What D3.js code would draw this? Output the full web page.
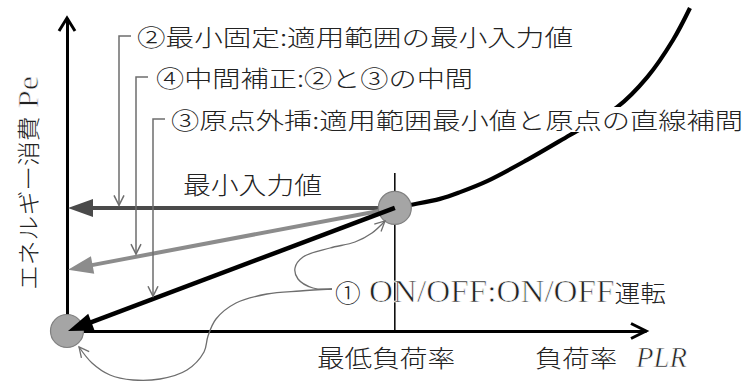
<!DOCTYPE html>
<html>
<head>
<meta charset="utf-8">
<script src="https://cdn.jsdelivr.net/npm/d3@7"></script>
<style>
  body { margin: 0; background: #fff; }
  svg { display: block; }
  text { font-family: "Liberation Serif", "Noto Sans CJK JP", serif; fill: #222; }
  .cjk { font-family: "Noto Sans CJK JP", sans-serif; font-weight: 300; }
  /* thin the serif a bit so it reads like the light mincho latin */
  .latin { font-family: "Liberation Serif", serif; font-weight: 400; stroke: #fff; stroke-width: 0.7; paint-order: fill; }
</style>
</head>
<body>
<script>

// characteristic curve Pe(PLR)
const curvePLR = [0.522, 0.546, 0.594, 0.626, 0.669, 0.732, 0.801, 0.876, 0.924, 0.965, 0.992];
const curvePe  = [0.381, 0.390, 0.409, 0.430, 0.464, 0.529, 0.607, 0.693, 0.786, 0.901, 1.000];

// lowest point of the applicable range
const minPLR = 0.522;
const minPe = 0.381;

// value each method gives at PLR = 0  (② fixed, ④ middle, ③ origin)
const methodPe = [0.381, 0.19, 0];
const methodLabels = [
  '②最小固定:適用範囲の最小入力値',
  '④中間補正:②と③の中間',
  '③原点外挿:適用範囲最小値と原点の直線補間'
];

const minInputLabel = '最小入力値';
const onOffLabel = ['①', ' ON/OFF:ON/OFF', '運転'];
const minPlrLabel = '最低負荷率';
const xTitle = '負荷率';
const xTitleVar = 'PLR';
const yTitle = ['エネルギー消費', ' Pe'];

// axis extents in data units
const xAxisEnd = 0.922;
const yAxisEnd = 0.969;

const width = 746;
const height = 382;

const svg = d3.select('body').append('svg')
  .attr('width', width)
  .attr('height', height);

const x = d3.scaleLinear().domain([0, 1]).range([67, 695]);
const y = d3.scaleLinear().domain([0, 1]).range([331, 8]);

// draws a thick line ending in a filled triangle
function solidArrow(g, x1, y1, x2, y2, color, w, len, half) {
  const a = Math.atan2(y2 - y1, x2 - x1);
  const c = Math.cos(a), s = Math.sin(a);
  g.append('line')
    .attr('x1', x1).attr('y1', y1)
    .attr('x2', x2 - (len - 2) * c).attr('y2', y2 - (len - 2) * s)
    .attr('stroke', color).attr('stroke-width', w);
  g.append('path')
    .attr('d', `M${x2},${y2}L${x2 - len * c - half * s},${y2 - len * s + half * c}L${x2 - len * c + half * s},${y2 - len * s - half * c}Z`)
    .attr('fill', color);
}

// open chevron at (tx,ty) pointing along angle a
function chevron(g, tx, ty, a, color, w, len, half) {
  const c = Math.cos(a), s = Math.sin(a);
  g.append('path')
    .attr('d', `M${tx - len * c - half * s},${ty - len * s + half * c}L${tx},${ty}L${tx - len * c + half * s},${ty - len * s - half * c}`)
    .attr('fill', 'none').attr('stroke', color).attr('stroke-width', w);
}

const plot = svg.append('g');

// axes, no ticks, just the lines
const xAxisScale = d3.scaleLinear().domain([0, xAxisEnd]).range([x(0), x(xAxisEnd)]);
const yAxisScale = d3.scaleLinear().domain([0, yAxisEnd]).range([y(0), y(yAxisEnd)]);

plot.append('g')
  .attr('class', 'x axis')
  .attr('transform', `translate(0,${y(0)})`)
  .call(d3.axisBottom(xAxisScale).tickValues([]).tickSizeOuter(0));

plot.append('g')
  .attr('class', 'y axis')
  .attr('transform', `translate(${x(0)},0)`)
  .call(d3.axisLeft(yAxisScale).tickValues([]).tickSizeOuter(0));

plot.selectAll('.axis .domain')
  .attr('stroke', '#000')
  .attr('stroke-width', 3);

chevron(plot, x(xAxisEnd), y(0), 0, '#000', 3, 15, 7.5);
chevron(plot, x(0), y(yAxisEnd), -Math.PI / 2, '#000', 3, 13, 8);

// vertical marker at the minimum load ratio
plot.append('line')
  .attr('x1', x(minPLR)).attr('x2', x(minPLR))
  .attr('y1', y(minPe) - 35).attr('y2', y(0))
  .attr('stroke', '#000').attr('stroke-width', 1.5);

// the characteristic curve
const curveData = curvePLR.map((d, i) => [d, curvePe[i]]);
plot.append('path')
  .datum(curveData)
  .attr('fill', 'none')
  .attr('stroke', '#000')
  .attr('stroke-width', 4.2)
  .attr('d', d3.line().x(d => x(d[0])).y(d => y(d[1])).curve(d3.curveCatmullRom));

// arrows for ② and ④
const arrowColors = ['#4a4a4a', '#8c8c8c', '#000'];
solidArrow(plot, x(minPLR), y(minPe), x(0) + 1, y(methodPe[0]), arrowColors[0], 4, 25, 9);
solidArrow(plot, x(minPLR), y(minPe), x(0) + 1, y(methodPe[1]), arrowColors[1], 4, 25, 9);

// the two gray dots
plot.selectAll('.dot')
  .data([[minPLR, minPe], [0, 0]])
  .enter().append('circle')
    .attr('class', 'dot')
    .attr('cx', d => x(d[0]))
    .attr('cy', d => y(d[1]))
    .attr('r', 16.5)
    .attr('fill', '#a5a5a5')
    .attr('stroke', '#808080')
    .attr('stroke-width', 1.2);

// ③ arrow sits on top of the dots
solidArrow(plot, x(minPLR), y(minPe), x(0) + 1, y(methodPe[2]), arrowColors[2], 4.5, 25, 9);

// leaders from the method labels down to their arrows
const leaderX = [119, 136, 153];
const labelY = [36, 77, 119];
const leaderColor = '#6e6e6e';

methodPe.forEach((pe, i) => {
  const lx = leaderX[i];
  const t = (lx - x(0)) / (x(minPLR) - x(0));
  const ly = y(pe) + t * (y(minPe) - y(pe)) - 2.5;
  plot.append('path')
    .attr('d', `M${lx + 12},${labelY[i]}H${lx}V${ly}`)
    .attr('fill', 'none').attr('stroke', leaderColor).attr('stroke-width', 1.5);
  chevron(plot, lx, ly, Math.PI / 2, leaderColor, 1.5, 10, 5);
});

// curved leaders for ①
const onOffLine = d3.line().curve(d3.curveCatmullRom);
const toMin = [[332, 289], [313, 288], [298, 279], [295, 268], [303, 257], [330, 248], [355, 242], [372, 233], [385, 221]];
const toOrigin = [[332, 289], [300, 291], [267, 294], [236, 303], [216, 319], [208, 336], [204, 352], [187, 370],
  [160, 379], [133, 380], [110, 375], [92, 363], [79, 347]];

[toMin, toOrigin].forEach(pts => {
  plot.append('path')
    .attr('d', onOffLine(pts))
    .attr('fill', 'none').attr('stroke', leaderColor).attr('stroke-width', 1.3);
  const p = pts[pts.length - 1], q = pts[pts.length - 2];
  chevron(plot, p[0], p[1], Math.atan2(p[1] - q[1], p[0] - q[0]), leaderColor, 1.3, 10, 5);
});

// text; runs = [[string, size, latin?, italic?], ...]
function label(runs, x0, yc, x1, parent = svg) {
  const t = parent.append('text')
    .attr('x', x0)
    .attr('y', yc)
    .attr('dominant-baseline', 'central')
    .attr('textLength', x1 - x0)
    .attr('lengthAdjust', 'spacingAndGlyphs');
  runs.forEach(r => {
    const s = t.append('tspan')
      .attr('class', r[2] ? 'latin' : 'cjk')
      .attr('font-size', r[1])
      .attr('dominant-baseline', 'central')
      .text(r[0]);
    if (r[3]) s.attr('font-style', 'italic');
  });
  return t;
}

const labelX = [137, 156, 171];
const labelEnd = [573, 473, 743];
methodLabels.forEach((txt, i) => {
  if (i === 2) {
    svg.append('rect')
      .attr('x', labelX[i]).attr('y', labelY[i] - 12)
      .attr('width', labelEnd[i] - labelX[i]).attr('height', 25)
      .attr('fill', '#fff');
  }
  label([[txt, 23]], labelX[i], labelY[i], labelEnd[i]);
});

label([[minInputLabel, 24]], 183, 183, 322);
label([[onOffLabel[0], 24], [onOffLabel[1], 31, true], [onOffLabel[2], 24]], 335, 291, 666);
label([[minPlrLabel, 24]], 317, 356, 455);
label([[xTitle, 24]], 535, 356, 617);
label([[xTitleVar, 30, true, true]], 636, 356, 687);

const yLab = svg.append('g').attr('transform', 'translate(27,290) rotate(-90)');
label([[yTitle[0], 23], [yTitle[1], 30, true]], 0, 0, 214, yLab);

</script>
</body>
</html>
